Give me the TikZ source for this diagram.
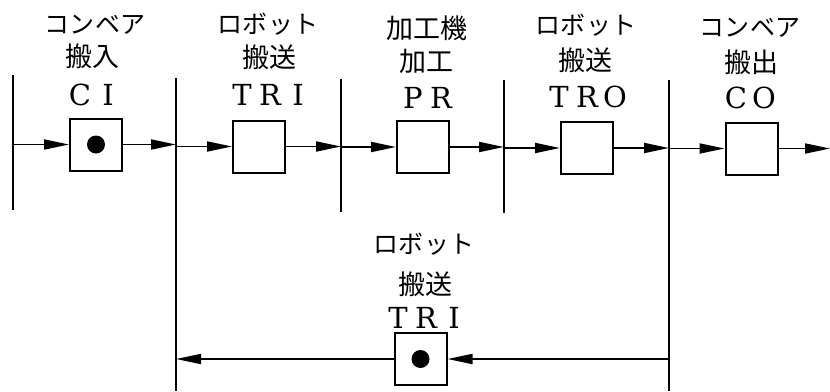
\documentclass[tikz,border=0pt]{standalone}
\usepackage{fontspec}
\setmainfont{DejaVu Serif}
\newfontfamily\jp{Noto Sans CJK JP}
\usetikzlibrary{arrows.meta}
\newcommand\kchar[1]{\makebox[25.5pt]{#1}}
\newcommand\lchar[1]{\makebox[28pt]{#1}}
\begin{document}
\begin{tikzpicture}[x=1pt,y=-1pt,
  bar/.style={line width=2pt},
  proc/.style={draw,line width=2pt,minimum size=52pt,inner sep=0pt,fill=white},
  flow/.style={line width=1.8pt,-{Triangle[length=25pt,width=10pt]}},
  kana/.style={font=\jp\fontsize{25}{25}\selectfont,inner sep=0pt,anchor=base},
  kanji/.style={font=\jp\fontsize{27}{27}\selectfont,inner sep=0pt,anchor=base},
  latin/.style={font=\fontsize{29}{29}\selectfont,inner sep=0pt,anchor=base},
  tok/.style={circle,fill=black,minimum size=18pt,inner sep=0pt}]
\useasboundingbox (0,0) rectangle (830,391);
% bars
\coordinate (b1t) at (13,75);  \coordinate (b1b) at (13,210);
\coordinate (b2t) at (176,78); \coordinate (b2b) at (176,391);
\coordinate (b3t) at (341,79); \coordinate (b3b) at (341,212);
\coordinate (b4t) at (504,80); \coordinate (b4b) at (504,213);
\coordinate (b5t) at (669,80); \coordinate (b5b) at (669,391);
\foreach \b in {b1,b2,b3,b4,b5} \draw[bar] (\b t) -- (\b b);
% boxes
\node[proc] (ci)  at (96,144.5) {};
\node[proc] (tri) at (259,146.5) {};
\node[proc] (pr)  at (423,147) {};
\node[proc] (tro) at (587,148) {};
\node[proc] (co)  at (751.5,148.5) {};
\node[proc] (tri2) at (420.5,359) {};
\node[tok] (tokci) at (ci.center) {};
\node[tok] (toktri2) at (tri2.center) {};
\coordinate (outend) at (830,148.5);
% flows top
\draw[flow] (ci.west -| b1t) -- (ci.west);
\draw[flow] (ci.east) -- (ci.east -| b2t);
\draw[flow] (tri.west -| b2t) -- (tri.west);
\draw[flow] (tri.east) -- (tri.east -| b3t);
\draw[flow] (pr.west -| b3t) -- (pr.west);
\draw[flow] (pr.east) -- (pr.east -| b4t);
\draw[flow] (tro.west -| b4t) -- (tro.west);
\draw[flow] (tro.east) -- (tro.east -| b5t);
\draw[flow] (co.west -| b5t) -- (co.west);
\draw[flow] (co.east) -- (outend);
% flows bottom
\draw[flow] (tri2.east -| b5t) -- (tri2.east);
\draw[flow] (tri2.west) -- (tri2.west -| b2t);
% labels
\node[kana] (l1a) at (95,33) {\kchar{コ}\kchar{ン}\kchar{ベ}\kchar{ア}};
\node[kanji] (l1b) at (92,66) {搬入};
\node[latin] (l1c) at (94,105) {\lchar{C}\lchar{I}};
\node[kana] (l2a) at (268,33) {\kchar{ロ}\kchar{ボ}\kchar{ッ}\kchar{ト}};
\node[kanji] (l2b) at (269,67) {搬送};
\node[latin] (l2c) at (270,105) {\lchar{T}\lchar{R}\lchar{I}};
\node[kanji] (l3a) at (427,38) {加工機};
\node[kanji] (l3b) at (426,71) {加工};
\node[latin] (l3c) at (427,108) {\lchar{P}\lchar{R}};
\node[kana] (l4a) at (586,34) {\kchar{ロ}\kchar{ボ}\kchar{ッ}\kchar{ト}};
\node[kanji] (l4b) at (585,70) {搬送};
\node[latin] (l4c) at (587,107) {\lchar{T}\lchar{R}\lchar{O}};
\node[kana] (l5a) at (750,36) {\kchar{コ}\kchar{ン}\kchar{ベ}\kchar{ア}};
\node[kanji] (l5b) at (751,72) {搬出};
\node[latin] (l5c) at (750,108) {\lchar{C}\lchar{O}};
\node[kana] (l6a) at (424,253) {\kchar{ロ}\kchar{ボ}\kchar{ッ}\kchar{ト}};
\node[kanji] (l6b) at (425,294) {搬送};
\node[latin] (l6c) at (426,328) {\lchar{T}\lchar{R}\lchar{I}};
\end{tikzpicture}
\end{document}
